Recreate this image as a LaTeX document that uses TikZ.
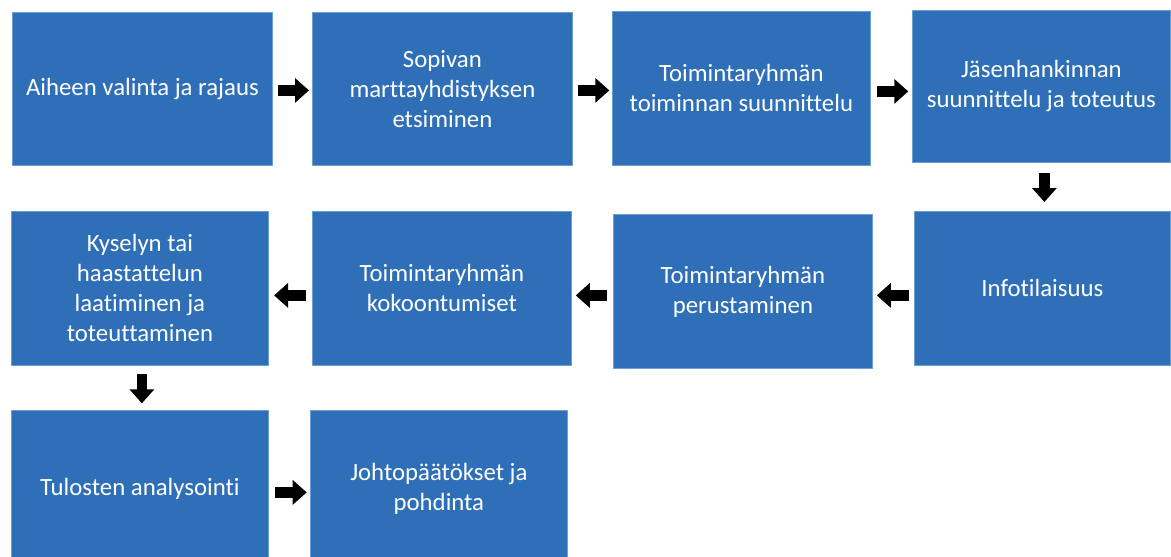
\documentclass[tikz,border=0pt]{standalone}
\usepackage{fontspec}
\setmainfont[Ligatures=NoCommon]{Carlito}
\usetikzlibrary{arrows.meta}
\definecolor{boxblue}{HTML}{2E6FB7}
\definecolor{edgeblue}{HTML}{6C9FD6}
\begin{document}
\begin{tikzpicture}[x=1pt,y=-1pt,
  stepbox/.style={draw=edgeblue, line width=0.8pt, fill=boxblue, text=white,
    anchor=north west, inner sep=0pt, align=center,
    font=\fontsize{24.8}{30}\selectfont},
  flow/.style={draw=black, line width=10.5pt, -{Triangle[length=14pt,width=24pt]}}]
\useasboundingbox (0,0) rectangle (1171,557);
% row 1
\node[stepbox, minimum width=260, minimum height=153] (b1) at (12,12) {Aiheen valinta ja rajaus};
\node[stepbox, minimum width=260, minimum height=153] (b2) at (312,12) {Sopivan\\marttayhdistyksen\\etsiminen};
\node[stepbox, minimum width=258, minimum height=154] (b3) at (612,11) {Toimintaryhmän\\toiminnan suunnittelu};
\node[stepbox, minimum width=258, minimum height=152] (b4) at (912,10) {Jäsenhankinnan\\suunnittelu ja toteutus};
% row 2
\node[stepbox, minimum width=256, minimum height=154] (b8) at (914,211) {Infotilaisuus};
\node[stepbox, minimum width=259, minimum height=154] (b7) at (613,214) {Toimintaryhmän\\perustaminen};
\node[stepbox, minimum width=259, minimum height=154] (b6) at (312,211) {Toimintaryhmän\\kokoontumiset};
\node[stepbox, minimum width=257, minimum height=154] (b5) at (11,211) {Kyselyn tai\\haastattelun\\laatiminen ja\\toteuttaminen};
% row 3
\node[stepbox, minimum width=257, minimum height=156] (b9) at (11,410) {Tulosten analysointi};
\node[stepbox, minimum width=257, minimum height=156] (b10) at (310,410) {Johtopäätökset ja\\pohdinta};
% connectors
\draw[flow, shorten <=5pt, shorten >=3pt] ([yshift=-1.5pt]b1.east) -- ([yshift=-1.5pt]b1.east -| b2.west);
\draw[flow, shorten <=5.3pt, shorten >=2.7pt] ([yshift=-1.5pt]b2.east) -- ([yshift=-1.5pt]b2.east -| b3.west);
\draw[flow, shorten <=6pt, shorten >=3.7pt] ([yshift=-3pt]b3.east) -- ([yshift=-3pt]b3.east -| b4.west);
\draw[flow, shorten <=10pt, shorten >=9pt] ([xshift=3pt]b4.south) -- ([xshift=3pt]b4.south |- b8.north);
\draw[flow, shorten <=5pt, shorten >=4pt] ([yshift=-7pt]b8.west) -- ([yshift=-7pt]b8.west -| b7.east);
\draw[flow, shorten <=6.3pt, shorten >=4pt] ([yshift=-4pt]b7.west) -- ([yshift=-4pt]b7.west -| b6.east);
\draw[flow, shorten <=6pt, shorten >=5.3pt] ([yshift=-7pt]b6.west) -- ([yshift=-7pt]b6.west -| b5.east);
\draw[flow, shorten <=8pt, shorten >=6.7pt] ([xshift=2pt]b5.south) -- ([xshift=2pt]b5.south |- b9.north);
\draw[flow, shorten <=6pt, shorten >=3.3pt] ([yshift=-4pt]b9.east) -- ([yshift=-4pt]b9.east -| b10.west);
\end{tikzpicture}
\end{document}
